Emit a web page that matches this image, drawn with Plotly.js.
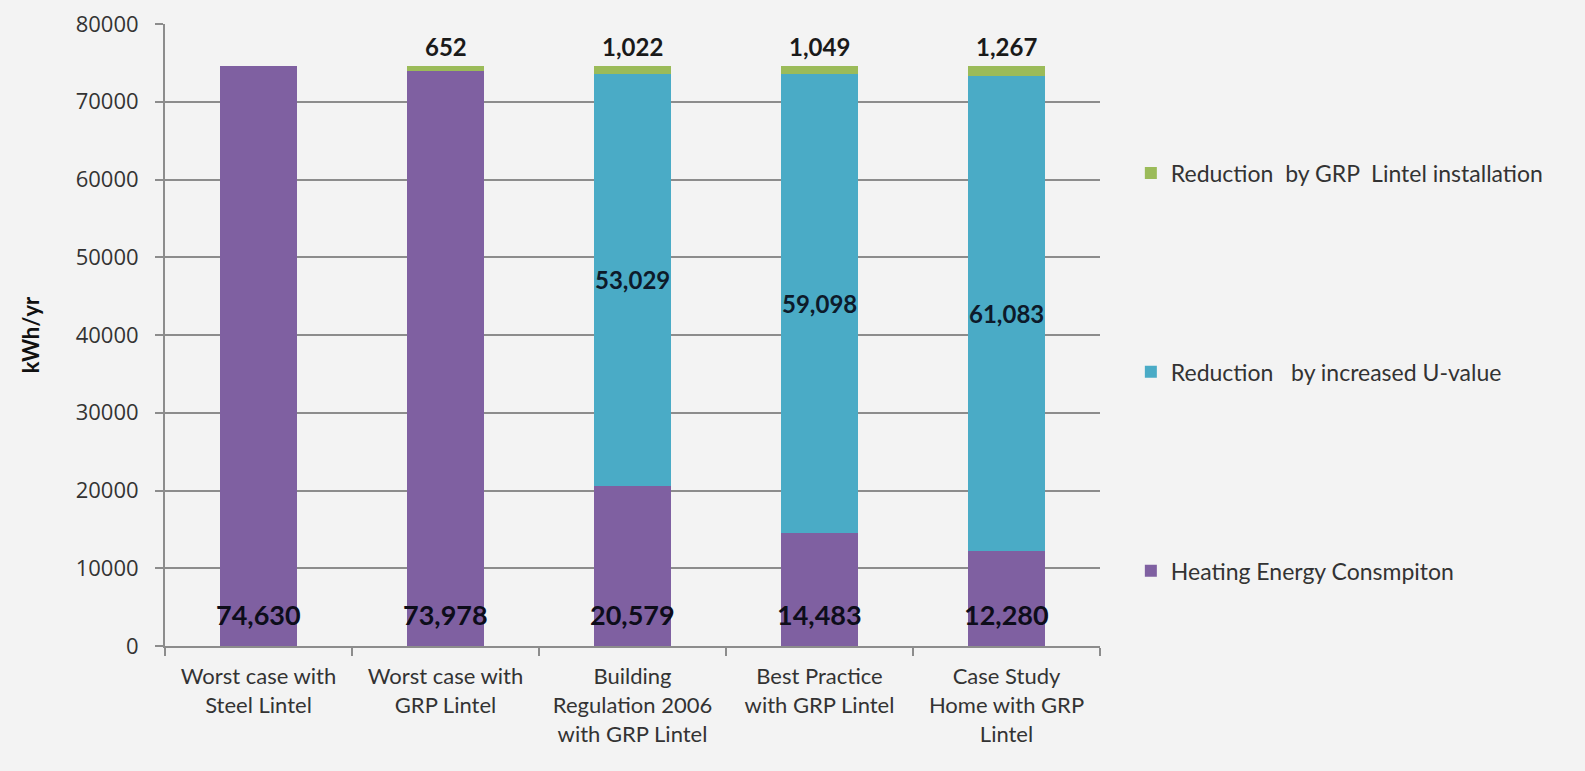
<!DOCTYPE html>
<html>
<head>
<meta charset="utf-8">
<script src="https://cdn.plot.ly/plotly-3.0.1.min.js"></script>
<style>
  html, body { margin: 0; padding: 0; background: #f3f3f3; }
  #chart { width: 1585px; height: 771px; }
</style>
</head>
<body>
<div id="chart"></div>
<script>
const categories = [
  "Worst case with<br>Steel Lintel",
  "Worst case with<br>GRP Lintel",
  "Building<br>Regulation 2006<br>with GRP Lintel",
  "Best Practice<br>with GRP Lintel",
  "Case Study<br>Home with GRP<br>Lintel"
];
const heatingEnergy = [74630, 73978, 20579, 14483, 12280];
const reductionUValue = [0, 0, 53029, 59098, 61083];
const reductionGRP = [0, 652, 1022, 1049, 1267];
const seriesNames = [
  "Heating Energy Consmpiton",
  "Reduction   by increased U-value",
  "Reduction  by GRP  Lintel installation"
];
const yTicks = [0, 10000, 20000, 30000, 40000, 50000, 60000, 70000, 80000];

const colors = ["#7f60a1", "#4aabc6", "#9bbb59"];
const labelFont = "Lato, 'Open Sans', sans-serif";

const traces = [heatingEnergy, reductionUValue, reductionGRP].map((vals, i) => ({
  type: "bar",
  x: categories,
  y: vals,
  name: seriesNames[i],
  legendgroup: "g" + (3 - i),
  legendrank: 3 - i,
  marker: { color: colors[i] },
  hoverinfo: "y+name"
}));

const fmt = v => v.toLocaleString("en-US");
const annotations = [];
categories.forEach((c, i) => {
  annotations.push({
    x: c, y: 0, xref: "x", yref: "y", text: "<b>" + fmt(heatingEnergy[i]) + "</b>",
    showarrow: false, yanchor: "middle", yshift: 32,
    font: { family: labelFont, size: 27, color: "#0d0d1a" }
  });
  if (reductionUValue[i] > 0) {
    annotations.push({
      x: c, y: heatingEnergy[i] + reductionUValue[i] / 2, xref: "x", yref: "y",
      text: "<b>" + fmt(reductionUValue[i]) + "</b>",
      showarrow: false, yanchor: "middle",
      font: { family: labelFont, size: 24, color: "#0d1a2a" }
    });
  }
  if (reductionGRP[i] > 0) {
    annotations.push({
      x: c, y: heatingEnergy[i] + reductionUValue[i] + reductionGRP[i], xref: "x", yref: "y",
      text: "<b>" + fmt(reductionGRP[i]) + "</b>",
      showarrow: false, yanchor: "bottom", yshift: 3,
      font: { family: labelFont, size: 24, color: "#1a1a1a" }
    });
  }
});

const layout = {
  width: 1585, height: 771,
  paper_bgcolor: "#f3f3f3",
  plot_bgcolor: "#f3f3f3",
  margin: { l: 165, r: 485, t: 24, b: 125 },
  barmode: "stack",
  bargap: 0.59,
  font: { family: "'Open Sans', sans-serif", color: "#333333" },
  xaxis: {
    type: "category",
    showline: true, linecolor: "#8c8c8c", linewidth: 2,
    ticks: "outside", tickson: "boundaries", ticklen: 8, tickcolor: "#8c8c8c", tickwidth: 2,
    ticklabelstandoff: 10,
    tickfont: { family: labelFont, size: 22, color: "#333333" },
    showgrid: false, zeroline: false
  },
  yaxis: {
    range: [0, 80000],
    tickvals: yTicks,
    ticktext: yTicks.map(String),
    showline: true, linecolor: "#8c8c8c", linewidth: 2,
    ticks: "outside", ticklen: 8, tickcolor: "#8c8c8c", tickwidth: 2,
    ticklabelstandoff: 12,
    showgrid: true, gridcolor: "#8c8c8c", gridwidth: 2,
    zeroline: false,
    tickfont: { family: "'Open Sans', sans-serif", size: 22, color: "#333333" },
    title: { text: "<b>kWh/yr</b>", font: { family: labelFont, size: 22, color: "#111111" }, standoff: 30 }
  },
  legend: {
    x: 1.033, xanchor: "left",
    y: 0.795, yanchor: "top",
    traceorder: "grouped",
    tracegroupgap: 166,
    font: { family: labelFont, size: 23, color: "#333333" },
    bgcolor: "rgba(0,0,0,0)",
    itemwidth: 30
  },
  annotations: annotations,
  showlegend: true
};

Plotly.newPlot("chart", traces, layout, { displayModeBar: false });
</script>
</body>
</html>
